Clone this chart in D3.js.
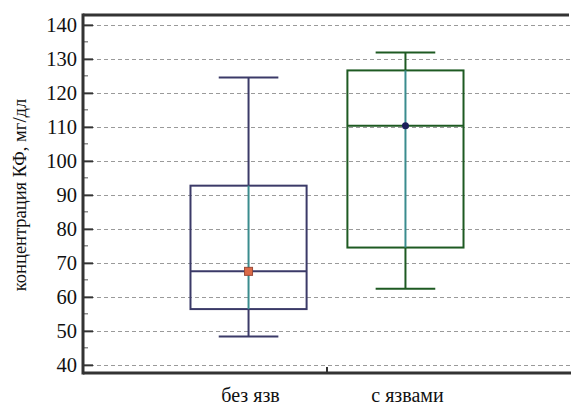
<!DOCTYPE html>
<html>
<head>
<meta charset="utf-8">
<script src="https://cdn.jsdelivr.net/npm/d3@7/dist/d3.min.js"></script>
<style>
  body { margin: 0; background: #fff; }
  svg { display: block; }
  svg text { font-family: "Liberation Serif", "Times New Roman", serif; }
</style>
</head>
<body>
<div id="chart"></div>
<script>
const width = 571;
const height = 405;

// Data
const groups = ["без язв", "с язвами"];
const whiskerLow = [48.3, 62.4];
const q1 = [56.4, 74.5];
const median = [67.5, 110.3];
const q3 = [92.7, 126.6];
const whiskerHigh = [124.5, 131.9];
const means = [67.5, 110.3];
const yTicks = [40, 50, 60, 70, 80, 90, 100, 110, 120, 130, 140];
const yMinorTicks = [45, 55, 65, 75, 85, 95, 105, 115, 125, 135];

const boxColours = ["#3b3a68", "#1e5a22"];
const innerColour = "#3a8c8e";

const plotLeft = 83, plotRight = 571, plotTop = 15, plotBottom = 373;

const y = d3.scaleLinear()
    .domain([37.6, 142.9])
    .range([plotBottom, plotTop]);

const x = d3.scalePoint()
    .domain(groups)
    .range([plotLeft, plotRight])
    .padding(1.055);

const step = x.step();
const boxW = step * 0.74;
const capW = step * 0.38;

const svg = d3.create("svg")
    .attr("width", width)
    .attr("height", height);

// --- Grid ---
svg.append("g")
    .selectAll("line")
    .data(yTicks)
    .join("line")
    .attr("x1", plotLeft)
    .attr("x2", plotRight)
    .attr("y1", d => Math.round(y(d)) + 0.5)
    .attr("y2", d => Math.round(y(d)) + 0.5)
    .attr("stroke", "#9a9a9a")
    .attr("stroke-dasharray", "4,3");

// --- Boxes ---
const data = groups.map((g, i) => ({
    g, i,
    lo: whiskerLow[i], q1: q1[i], med: median[i], q3: q3[i], hi: whiskerHigh[i], mean: means[i]
}));

const box = svg.append("g")
    .selectAll("g")
    .data(data)
    .join("g");

// whiskers outside the box
box.append("line")
    .attr("x1", d => x(d.g)).attr("x2", d => x(d.g))
    .attr("y1", d => y(d.hi)).attr("y2", d => y(d.q3))
    .attr("stroke", d => boxColours[d.i]).attr("stroke-width", 2);
box.append("line")
    .attr("x1", d => x(d.g)).attr("x2", d => x(d.g))
    .attr("y1", d => y(d.q1)).attr("y2", d => y(d.lo))
    .attr("stroke", d => boxColours[d.i]).attr("stroke-width", 2);

// caps
box.selectAll(".cap")
    .data(d => [d.lo, d.hi].map(v => ({ v, d })))
    .join("line")
    .attr("class", "cap")
    .attr("x1", c => x(c.d.g) - capW / 2)
    .attr("x2", c => x(c.d.g) + capW / 2)
    .attr("y1", c => y(c.v)).attr("y2", c => y(c.v))
    .attr("stroke", c => boxColours[c.d.i]).attr("stroke-width", 2);

// box rectangle
box.append("rect")
    .attr("x", d => x(d.g) - boxW / 2)
    .attr("width", boxW)
    .attr("y", d => y(d.q3))
    .attr("height", d => y(d.q1) - y(d.q3))
    .attr("fill", "none")
    .attr("stroke", d => boxColours[d.i])
    .attr("stroke-width", 2);

// line inside box
box.append("line")
    .attr("x1", d => x(d.g)).attr("x2", d => x(d.g))
    .attr("y1", d => y(d.q3)).attr("y2", d => y(d.q1))
    .attr("stroke", innerColour).attr("stroke-width", 2);

// median
box.append("line")
    .attr("x1", d => x(d.g) - boxW / 2)
    .attr("x2", d => x(d.g) + boxW / 2)
    .attr("y1", d => y(d.med)).attr("y2", d => y(d.med))
    .attr("stroke", d => boxColours[d.i]).attr("stroke-width", 2);

// mean markers
const m0 = data[0], m1 = data[1];
svg.append("rect")
    .attr("x", x(m0.g) - 4).attr("y", y(m0.mean) - 4)
    .attr("width", 8).attr("height", 8)
    .attr("fill", "#dc6a48")
    .attr("stroke", "#9a4a38").attr("stroke-width", 1);
svg.append("circle")
    .attr("cx", x(m1.g)).attr("cy", y(m1.mean))
    .attr("r", 3.5)
    .attr("fill", "#1b1f5a");

// --- Y axis ---
const yAxis = svg.append("g")
    .attr("transform", `translate(${plotLeft},0)`)
    .call(d3.axisLeft(y).tickValues(yTicks).tickSize(-10).tickPadding(6));
yAxis.select(".domain").remove();
yAxis.selectAll(".tick line").attr("stroke", "#333").attr("stroke-width", 2);
yAxis.selectAll(".tick text")
    .attr("font-size", 20.5)
    .attr("fill", "#111");

svg.append("g")
    .selectAll("line")
    .data(yMinorTicks)
    .join("line")
    .attr("x1", plotLeft).attr("x2", plotLeft + 5)
    .attr("y1", d => y(d)).attr("y2", d => y(d))
    .attr("stroke", "#555").attr("stroke-width", 1);

// frame lines
svg.append("line")
    .attr("x1", plotLeft).attr("x2", plotLeft)
    .attr("y1", plotTop - 1.5).attr("y2", plotBottom + 1.5)
    .attr("stroke", "#333").attr("stroke-width", 3);
svg.append("line")
    .attr("x1", plotLeft).attr("x2", plotRight - 2)
    .attr("y1", plotTop).attr("y2", plotTop)
    .attr("stroke", "#333").attr("stroke-width", 3);
svg.append("line")
    .attr("x1", plotLeft).attr("x2", plotRight)
    .attr("y1", plotBottom).attr("y2", plotBottom)
    .attr("stroke", "#333").attr("stroke-width", 3);

// --- X axis ---
const midX = (x(groups[0]) + x(groups[1])) / 2;
svg.append("line")
    .attr("x1", midX).attr("x2", midX)
    .attr("y1", plotBottom).attr("y2", plotBottom - 6)
    .attr("stroke", "#333").attr("stroke-width", 2);

svg.append("g")
    .selectAll("text")
    .data(groups)
    .join("text")
    .attr("x", d => x(d) + 2)
    .attr("y", 402)
    .attr("text-anchor", "middle")
    .attr("font-size", 20)
    .attr("fill", "#111")
    .text(d => d);

svg.append("text")
    .attr("transform", `translate(26,195) rotate(-90)`)
    .attr("text-anchor", "middle")
    .attr("font-size", 18.5)
    .attr("fill", "#111")
    .text("концентрация КФ, мг/дл");

document.querySelector("#chart").append(svg.node());
</script>
</body>
</html>
